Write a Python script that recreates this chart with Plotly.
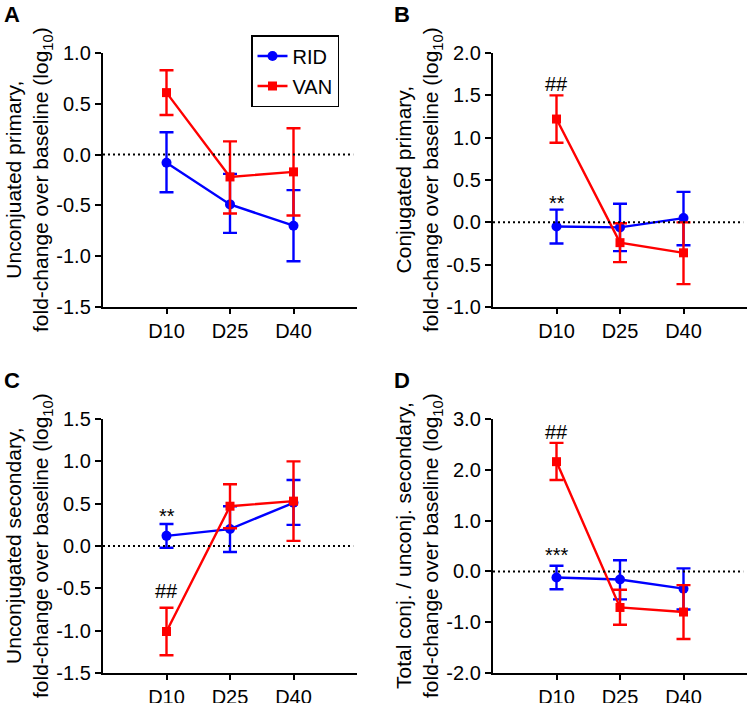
import plotly.graph_objects as go

# dữ liệu
days = ["D10", "D25", "D40"]
series_names = ["RID", "VAN"]

a_rid = [-0.08, -0.49, -0.70]
a_rid_up = [0.30, 0.30, 0.35]
a_rid_dn = [0.29, 0.28, 0.35]
a_van = [0.61, -0.22, -0.17]
a_van_up = [0.22, 0.35, 0.43]
a_van_dn = [0.22, 0.36, 0.43]

b_rid = [-0.05, -0.06, 0.05]
b_rid_up = [0.20, 0.28, 0.31]
b_rid_dn = [0.20, 0.28, 0.32]
b_van = [1.22, -0.24, -0.36]
b_van_up = [0.28, 0.23, 0.36]
b_van_dn = [0.28, 0.23, 0.37]

c_rid = [0.12, 0.20, 0.51]
c_rid_up = [0.14, 0.27, 0.27]
c_rid_dn = [0.14, 0.27, 0.26]
c_van = [-1.01, 0.47, 0.53]
c_van_up = [0.28, 0.26, 0.47]
c_van_dn = [0.28, 0.26, 0.47]

d_rid = [-0.12, -0.16, -0.34]
d_rid_up = [0.23, 0.38, 0.40]
d_rid_dn = [0.23, 0.39, 0.41]
d_van = [2.16, -0.71, -0.80]
d_van_up = [0.37, 0.35, 0.53]
d_van_dn = [0.36, 0.34, 0.53]

y_titles = [
    "Unconjuated primary,<br>fold-change over baseline (log<sub>10</sub>)",
    "Conjugated primary,<br>fold-change over baseline (log<sub>10</sub>)",
    "Unconjugated secondary,<br>fold-change over baseline (log<sub>10</sub>)",
    "Total conj. / unconj. secondary,<br>fold-change over baseline (log<sub>10</sub>)",
]
panel_letters = ["A", "B", "C", "D"]
y_ticks_a = [-1.5, -1.0, -0.5, 0.0, 0.5, 1.0]
y_ticks_b = [-1.0, -0.5, 0.0, 0.5, 1.0, 1.5, 2.0]
y_ticks_c = [-1.5, -1.0, -0.5, 0.0, 0.5, 1.0, 1.5]
y_ticks_d = [-2.0, -1.0, 0.0, 1.0, 2.0, 3.0]

# chú thích ý nghĩa thống kê: (panel, ngày, y, chữ)
stars = [
    (1, "D10", 1.48, "##"),
    (1, "D10", 0.08, "**"),
    (2, "D10", 0.20, "**"),
    (2, "D10", -0.68, "##"),
    (3, "D10", 2.49, "##"),
    (3, "D10", 0.07, "***"),
]

FONT = "Arial, Liberation Sans, sans-serif"
BLUE = "#0000ff"
RED = "#ff0000"

panels = [
    (a_rid, a_rid_up, a_rid_dn, a_van, a_van_up, a_van_dn, y_ticks_a),
    (b_rid, b_rid_up, b_rid_dn, b_van, b_van_up, b_van_dn, y_ticks_b),
    (c_rid, c_rid_up, c_rid_dn, c_van, c_van_up, c_van_dn, y_ticks_c),
    (d_rid, d_rid_up, d_rid_dn, d_van, d_van_up, d_van_dn, y_ticks_d),
]

W, H = 750, 703
# vị trí vùng vẽ (pixel)
boxes = [(103, 357, 53, 307), (493, 747, 53, 307), (103, 357, 419, 673), (493, 747, 419, 673)]

fig = go.Figure()
layout = {}
annotations = []
shapes = []

for i, (rid, rid_up, rid_dn, van, van_up, van_dn, yt) in enumerate(panels):
    n = "" if i == 0 else str(i + 1)
    xa, ya = "x" + n, "y" + n
    x0, x1, y0, y1 = boxes[i]

    for name, vals, up, dn, col, sym, msize in [
        (series_names[0], rid, rid_up, rid_dn, BLUE, "circle", 10),
        (series_names[1], van, van_up, van_dn, RED, "square", 9),
    ]:
        fig.add_trace(go.Scatter(
            x=days, y=vals, name=name, mode="lines+markers",
            xaxis=xa, yaxis=ya,
            line=dict(color=col, width=2.4),
            marker=dict(symbol=sym, size=msize, color=col),
            error_y=dict(type="data", symmetric=False, array=up, arrayminus=dn,
                         color=col, thickness=2.4, width=7),
            showlegend=(i == 0), legendgroup=name,
        ))

    layout["xaxis" + n] = dict(
        domain=[x0 / W, x1 / W], anchor=ya, type="category",
        categoryorder="array", categoryarray=days, range=[-1, 3],
        showline=True, linecolor="black", linewidth=2.4, mirror=False,
        ticks="outside", ticklen=5, tickwidth=2, tickcolor="black",
        showgrid=False, zeroline=False, automargin=False,
        tickfont=dict(family=FONT, size=20, color="black"),
    )
    layout["yaxis" + n] = dict(
        domain=[1 - y1 / H, 1 - y0 / H], anchor=xa, range=[yt[0], yt[-1]],
        tickvals=yt, ticktext=[f"{v:.1f}" for v in yt],
        showline=True, linecolor="black", linewidth=2.4,
        ticks="outside", ticklen=6, tickwidth=2, tickcolor="black",
        showgrid=False, zeroline=False, automargin=False,
        tickfont=dict(family=FONT, size=20, color="black"),
    )

    # đường 0 chấm chấm
    shapes.append(dict(type="line", xref=xa + " domain", yref=ya, x0=0, x1=0.985, y0=0, y1=0,
                       line=dict(color="black", width=2, dash="2px,3px")))

    # tiêu đề trục y
    annotations.append(dict(
        text=y_titles[i], xref=xa + " domain", yref=ya + " domain", x=0, y=0.5,
        xshift=-74, textangle=-90, showarrow=False, xanchor="center", yanchor="middle",
        font=dict(family=FONT, size=21, color="black"),
    ))
    # chữ cái của panel
    annotations.append(dict(
        text="<b>" + panel_letters[i] + "</b>", xref="paper", yref="paper",
        x=(x0 - 101) / W, y=1 - (y0 - 53) / H, xanchor="left", yanchor="top",
        showarrow=False, font=dict(family=FONT, size=22, color="black"),
    ))

for p, day, yv, txt in stars:
    n = "" if p == 0 else str(p + 1)
    annotations.append(dict(
        text=txt, x=day, y=yv, xref="x" + n, yref="y" + n, showarrow=False,
        yanchor="bottom", font=dict(family=FONT, size=20, color="black"),
    ))

fig.update_layout(
    width=W, height=H, margin=dict(l=0, r=0, t=0, b=0, autoexpand=False),
    paper_bgcolor="white", plot_bgcolor="white",
    annotations=annotations, shapes=shapes,
    legend=dict(x=251 / W, y=1 - 35 / H, xanchor="left", yanchor="top",
                bordercolor="black", borderwidth=1.5, bgcolor="white",
                font=dict(family=FONT, size=20, color="black"),
                tracegroupgap=1, itemwidth=30),
    **layout,
)

# bỏ lề mặc định của trang, ẩn thanh công cụ
fig.write_html("out.html", config={"displayModeBar": False},
               post_script="document.body.style.margin='0';")
